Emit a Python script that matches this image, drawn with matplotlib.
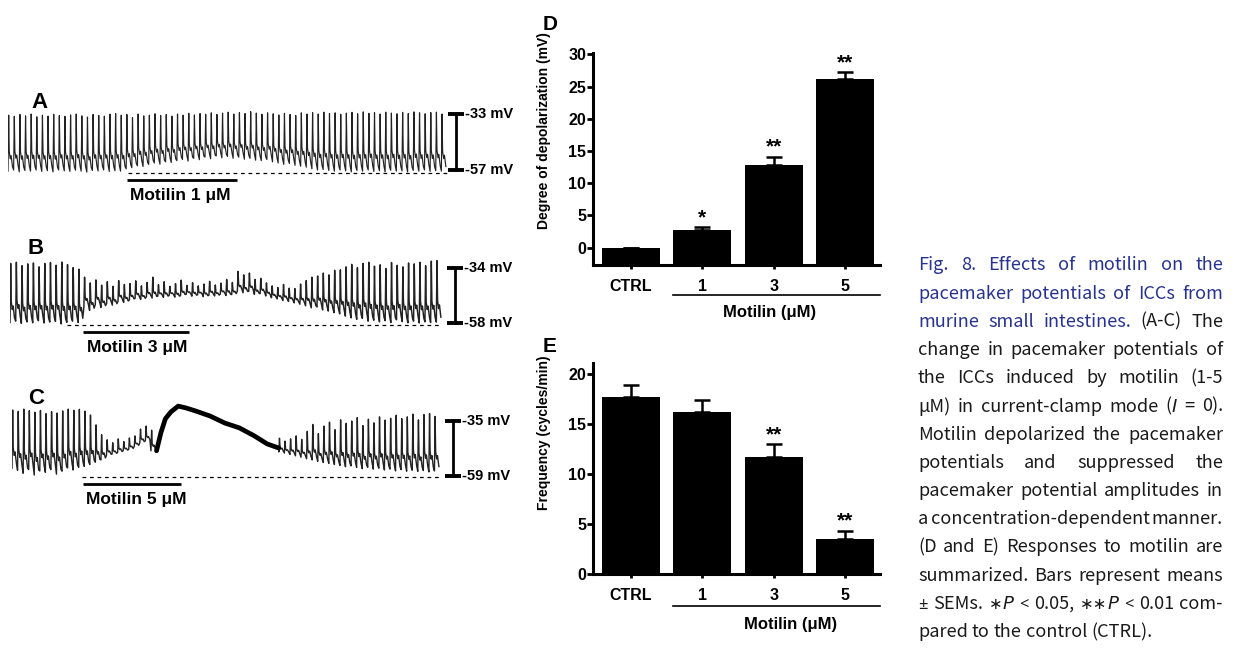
import re
import numpy as np
import matplotlib
matplotlib.use('Agg')
import matplotlib.pyplot as plt
import matplotlib.transforms as mtransforms

W, H, DPI = 1235, 649, 100
plt.rcParams['font.family'] = ['Liberation Sans', 'DejaVu Sans']

# pacemaker traces: one peak / one trough value (mV) per cycle
A_peaks = [-33.5, -34, -33.2, -33.8, -33, -34.2, -33.5, -33.9, -33.1, -33.7, -34, -33.4, -33, -33.8, -34.3,
           -33.2, -33.6, -33.9, -33.1, -32.8, -33.5,
           -33.2, -34.5, -33, -33.8, -33.5, -32.9, -33.6, -33.2, -33.9,
           -33, -33.5, -32.7, -33.4, -32.8, -33.1, -32.5, -33.2, -32.6, -32.2, -33, -32.4, -32.8, -32, -32.6,
           -33.1, -32.5,
           -32.9, -33.4, -32.7, -33.2, -33.6, -32.5, -33,
           -32.4, -33, -32.2, -32.8, -32.5, -33.1, -32.6, -32.3, -32.9, -32.1, -32.7, -32.4, -33, -32.2, -32.6,
           -32.9, -32.3, -32.8, -32.1, -32.5, -32.9, -32.4, -32.2, -33]
A_troughs = [-57.5, -57, -57.8, -57.2, -57.5, -57, -57.6, -57.3, -57.8, -57, -57.4, -57.6, -57.1, -57.5, -57.9,
             -57.2, -57.4, -57, -57.6, -57.3, -57.5,
             -56.5, -56, -55.2, -55.5, -54.6, -54, -54.5, -53.5, -53.8,
             -53, -52.5, -53.2, -52, -52.6, -51.5, -52.2, -51, -51.8, -51.2, -52, -51.5, -52.4, -52, -52.8,
             -53, -52.5,
             -53.5, -54, -54.6, -54.2, -55, -55.4, -55.8,
             -56.5, -57, -56.8, -57.2, -57.5, -57, -57.4, -57.8, -57.2, -57.5, -57, -57.6, -57.3, -57.8, -57.1,
             -57.5, -57.4, -57.8, -57.2, -57.5, -57, -57.6, -57.3, -57.5]

B_peaks = [-32, -31.5, -33, -32.2, -31.8, -33.5, -32, -31.6, -32.8, -31.4, -32.5, -33.8, -34.5,
           -38, -40.5, -39.2, -41.5, -40, -42, -39.5, -41.2,
           -40.8, -39.6, -41.8, -40.3, -38, -41.3, -40, -42, -40.8, -39.3, -41.6, -40.4, -41.8, -41, -39.8,
           -41.4, -40.6, -39, -40.3,
           -35.5, -37, -36.2, -39, -38.5,
           -40.5, -41.8, -42.5, -41.2, -42.8, -43,
           -41, -39.5, -38, -37.5, -36.2, -37, -35, -34.8,
           -33.5, -32.4, -33.8, -32, -31.5, -33.2, -32.6, -34.2, -31.6, -32.8, -33.5, -31.8, -32.2, -31.5,
           -33, -31, -30.8]
B_troughs = [-57.8, -57.2, -58.2, -57.5, -57.9, -57, -58, -57.6, -57.3, -58.4, -57.7, -57.2, -57.8,
             -51, -52.5, -50, -51.2, -49.5, -50.2, -48.6, -49,
             -48, -47.3, -47.7, -46.5, -47.1, -46.3, -46.8, -46, -46.7, -46.1, -45.5, -46.3, -45.7, -46.5,
             -45.9, -46.2, -45.4, -46, -45.6,
             -44, -44.8, -44.2, -45.5, -45.2,
             -46.2, -47, -47.5, -48.2, -48.6, -49.2,
             -49.8, -50.5, -51.4, -51, -52.3, -52.8, -53.5, -54,
             -55, -55.8, -56.4, -56, -57.2, -56.8, -57.5, -57, -57.8, -56.6, -57.4, -57.9, -57.2, -58,
             -57.5, -57.8, -57.6]

C_pre_peaks = [-30.2, -30.8, -29.8, -30.5, -31.2, -30.4, -31.8, -30.9, -31.5, -30.6, -29.8, -30.3, -29.9,
               -30.7, -32.4, -36.7, -41, -43.2, -44.5, -42.8, -44, -42.4, -41.5, -38.5, -37.2, -39]
C_pre_troughs = [-55.6, -56.5, -57.8, -56.2, -58.6, -56.8, -57.4, -56.2, -58.2, -56.9, -55.5, -56.4, -55.2,
                 -54.8, -54, -53, -52, -50, -49.5, -48.8, -48, -47.4, -46, -44.5, -43.6, -48]
C_plateau_t = [26, 26.8, 27.6, 28.6, 29.9, 31.3, 33, 35.6, 38.3, 40.9, 43.6, 45.9, 48]
C_plateau_mv = [-48, -40, -34, -31, -28.5, -29.3, -30.6, -32.8, -35.9, -38, -41.5, -45, -46.8]
C_post_peaks = [-42.5, -43.8, -42.8, -41.5, -43, -39.5, -36.5, -40.5, -37.2, -35.5, -38.8, -34.5, -36, -35,
                -33.5, -37, -34.2, -35.8, -33.2, -34.6, -33.8, -32.5, -34, -33.2, -32, -34.5, -32.2, -31.8, -33]
C_post_troughs = [-48.5, -49, -49.6, -50.2, -50.8, -51.5, -52, -52.6, -53.1, -53.5, -54, -54.4, -55, -54.6,
                  -55.3, -55.8, -55.2, -56, -55.6, -56.4, -56, -56.8, -56.2, -56.9, -56.5, -57, -56.6, -57.2,
                  -56.8]

doses = [1, 3, 5]
scale_top = [-33, -34, -35]
scale_bot = [-57, -58, -59]
rest_mv = [-58.2, -58.7, -59.3]
drug_on = [21.1, 12.9, 12.8]
drug_off = [40.7, 31.5, 30.4]
dash_from = [21.3, 10.0, 12.6]

# summary bars
groups = ['CTRL', '1', '3', '5']
depol_mean = [0, 2.7, 12.8, 26.1]
depol_sem = [0, 0.5, 1.3, 1.1]
depol_sig = ['', '*', '**', '**']
freq_mean = [17.7, 16.2, 11.7, 3.5]
freq_sem = [1.25, 1.2, 1.3, 0.85]
freq_sig = ['', '', '**', '**']

caption = [
    "Fig. 8. Effects of motilin on the",
    "pacemaker potentials of ICCs from",
    "murine small intestines. (A-C) The",
    "change in pacemaker potentials of",
    "the ICCs induced by motilin (1-5",
    "μM) in current-clamp mode ({I} = 0).",
    "Motilin depolarized the pacemaker",
    "potentials and suppressed the",
    "pacemaker potential amplitudes in",
    "a concentration-dependent manner.",
    "(D and E) Responses to motilin are",
    "summarized. Bars represent means",
    "[±] SEMs. [∗]{P} [<] 0.05, [∗∗]{P} [<] 0.01 com-",
    "pared to the control (CTRL).",
]
n_blue = [7, 5, 3] + [0] * 11

fig = plt.figure(figsize=(W / DPI, H / DPI), dpi=DPI)


def px_axes(x0, y0, x1, y1):
    return fig.add_axes([x0 / W, 1 - y1 / H, (x1 - x0) / W, (y1 - y0) / H])


def ftext(x, y, s, **kw):
    return fig.text(x / W, 1 - y / H, s, **kw)


# shape of one pacemaker cycle (fraction of cycle, fraction of amplitude)
shape_t = [0.0, 0.12, 0.22, 0.40, 0.55, 0.80]
shape_v = [0.0, 1.0, 0.35, 0.22, 0.28, 0.08]


def cycles(peaks, troughs, t0):
    t, v = [], []
    for i, (p, tr) in enumerate(zip(peaks, troughs)):
        for ft, fv in zip(shape_t, shape_v):
            t.append(t0 + i + ft)
            v.append(tr + (p - tr) * fv)
    return t, v


def trace_panel(k, t, v, n_units, x0, x1, top_px, bot_px, sb_px, letter_xy, lw=0.85):
    upx = (x1 - x0) / n_units
    mpx = (scale_top[k] - scale_bot[k]) / (bot_px - top_px)
    ya, yb, xr = top_px - 30, bot_px + 40, 535
    ax = px_axes(x0, ya, xr, yb)
    ax.set_xlim(0, (xr - x0) / upx)
    ax.set_ylim(scale_bot[k] - (yb - bot_px) * mpx, scale_top[k] + (top_px - ya) * mpx)
    ax.axis('off')
    ax.plot(t, v, color='#222222', lw=lw)
    ax.plot([dash_from[k], n_units], [rest_mv[k]] * 2, color='black', lw=0.9, ls=(0, (3, 3)))
    bar_y = rest_mv[k] - 7 * mpx
    ax.plot([drug_on[k], drug_off[k]], [bar_y] * 2, color='black', lw=2, solid_capstyle='butt')
    ax.text(drug_on[k] + 0.6, bar_y - 16 * mpx, 'Motilin %d μM' % doses[k], fontsize=12.5,
            fontweight='bold', va='center', ha='left')
    sx = (sb_px - x0) / upx
    cap = 8 / upx
    ax.plot([sx, sx], [scale_bot[k], scale_top[k]], color='black', lw=2)
    for val in (scale_top[k], scale_bot[k]):
        ax.plot([sx - cap, sx + cap], [val, val], color='black', lw=2.8, solid_capstyle='butt')
        ax.text(sx + cap + 0.2, val, '%d mV' % val, fontsize=10.5, fontweight='bold', va='center', ha='left')
    ftext(*letter_xy, 'ABC'[k], fontsize=16, fontweight='bold', ha='center', va='center')
    return ax


tA, vA = cycles(A_peaks, A_troughs, 0)
trace_panel(0, tA, vA, len(A_peaks), 8, 447, 114, 170, 456, (40, 102))

tB, vB = cycles(B_peaks, B_troughs, 0)
trace_panel(1, tB, vB, len(B_peaks), 10, 442, 268, 323, 455, (36, 248), lw=1.05)

t1, v1 = cycles(C_pre_peaks, C_pre_troughs, 0)
t2, v2 = cycles(C_post_peaks, C_post_troughs, C_plateau_t[-1])
tC = t1 + C_plateau_t + t2
vC = v1 + C_plateau_mv + v2
axC = trace_panel(2, tC, vC, C_plateau_t[-1] + len(C_post_peaks), 12, 440, 421, 476, 453, (36, 398), lw=1.0)
axC.plot(C_plateau_t, C_plateau_mv, color='black', lw=3.4, solid_capstyle='round')


def bar_panel(box, mean, sem, sig, ylo, yhi, ticks, ylabel, ylab_y, line_y, lab_xy, letter, letter_xy):
    ax = px_axes(*box)
    x = np.arange(len(groups))
    ax.bar(x, np.array(mean) - ylo, bottom=ylo, width=0.81, color='black')
    ax.errorbar(x, mean, yerr=[np.zeros(len(sem)), sem], fmt='none', ecolor='black',
                elinewidth=1.8, capsize=5.5, capthick=1.8)
    for xi, m, s, g in zip(x, mean, sem, sig):
        if g:
            ax.annotate(g, (xi, m + s), xytext=(0, 0), textcoords='offset points', ha='center',
                        va='bottom', fontsize=15, fontweight='bold')
    ax.set_xlim(-0.53, 3.49)
    ax.set_ylim(ylo, yhi)
    ax.set_yticks(ticks)
    ax.set_xticks(x, groups)
    for s in ('top', 'right'):
        ax.spines[s].set_visible(False)
    for s in ('left', 'bottom'):
        ax.spines[s].set_linewidth(2.2)
    ax.tick_params(axis='y', width=2, length=4, pad=1, labelsize=11.5)
    ax.tick_params(axis='x', width=2, length=3, pad=7, labelsize=11.5)
    for lab in ax.get_xticklabels() + ax.get_yticklabels():
        lab.set_fontweight('bold')
    ax.set_ylabel(ylabel, fontsize=10, fontweight='bold')
    hgt = box[3] - box[1]
    ax.yaxis.set_label_coords((551 - box[0]) / (box[2] - box[0]), (box[3] - ylab_y) / hgt)
    # bracket under the motilin groups
    tr = mtransforms.blended_transform_factory(ax.transData, ax.transAxes)
    frac = -(line_y - box[3]) / hgt
    ax.plot([1 - 0.405, 3.49], [frac, frac], color='black', lw=1.2, transform=tr, clip_on=False)
    ftext(*lab_xy, 'Motilin (μM)', fontsize=12, fontweight='bold', ha='center', va='center')
    ftext(*letter_xy, letter, fontsize=15, fontweight='bold', ha='center', va='center')
    return ax


bar_panel((593, 53, 880, 265), depol_mean, depol_sem, depol_sig, -2.7, 30.2, [0, 5, 10, 15, 20, 25, 30],
          'Degree of depolarization (mV)', 131, 295, (770, 312), 'D', (550, 24))
bar_panel((593, 363, 880, 574), freq_mean, freq_sem, freq_sig, 0, 21.1, [0, 5, 10, 15, 20],
          'Frequency (cycles/min)', 433, 606, (791, 625), 'E', (550, 346))

# justified caption: {x} = italic, [x] = symbol font
cap_family = ['Noto Sans CJK KR', 'DejaVu Sans']
sym_family = ['Noto Sans', 'DejaVu Sans']
blue = '#27338f'
xl, xr = 918, 1223
y0, dy = 270.5, 28.2
renderer = fig.canvas.get_renderer()


def make_line(li, fs):
    words = []
    for wi, word in enumerate(caption[li].split(' ')):
        col = blue if wi < n_blue[li] else '#1a1a1a'
        frags = []
        for fr in re.split(r'(\{.*?\}|\[.*?\])', word):
            if not fr:
                continue
            if fr.startswith('{'):
                fam, sty = ['DejaVu Sans'], 'italic'
            elif fr.startswith('['):
                fam, sty = sym_family, 'normal'
            else:
                fam, sty = cap_family, 'normal'
            t = fig.text(0, 0, fr.strip('{}[]'), fontsize=fs * (0.9 if fr.startswith('[') else 1),
                         color=col, family=fam, style=sty, va='baseline')
            frags.append([t, t.get_window_extent(renderer).width])
        words.append(frags)
    return words


fs = 14.0
pa = fig.text(0, 0, 'a a', fontsize=fs, family=cap_family)
pb = fig.text(0, 0, 'aa', fontsize=fs, family=cap_family)
space = pa.get_window_extent(renderer).width - pb.get_window_extent(renderer).width
pa.remove()
pb.remove()

lines = [make_line(i, fs) for i in range(len(caption))]
need = max(sum(w for fr in ws for _, w in fr) + (len(ws) - 1) * space * 0.6 for ws in lines[:-1])
if need > xr - xl:
    k = (xr - xl) / need
    for ws in lines:
        for fr in ws:
            for t in fr:
                t[0].remove()
    fs *= k
    space *= k
    lines = [make_line(i, fs) for i in range(len(caption))]

for li, ws in enumerate(lines):
    widths = [sum(w for _, w in fr) for fr in ws]
    gap = (xr - xl - sum(widths)) / (len(ws) - 1) if li < len(lines) - 1 else space
    x = xl
    for fr, ww in zip(ws, widths):
        for t, w in fr:
            t.set_position((x / W, 1 - (y0 + li * dy) / H))
            x += w
        x += gap

fig.savefig('out.png', dpi=DPI, facecolor='white')
